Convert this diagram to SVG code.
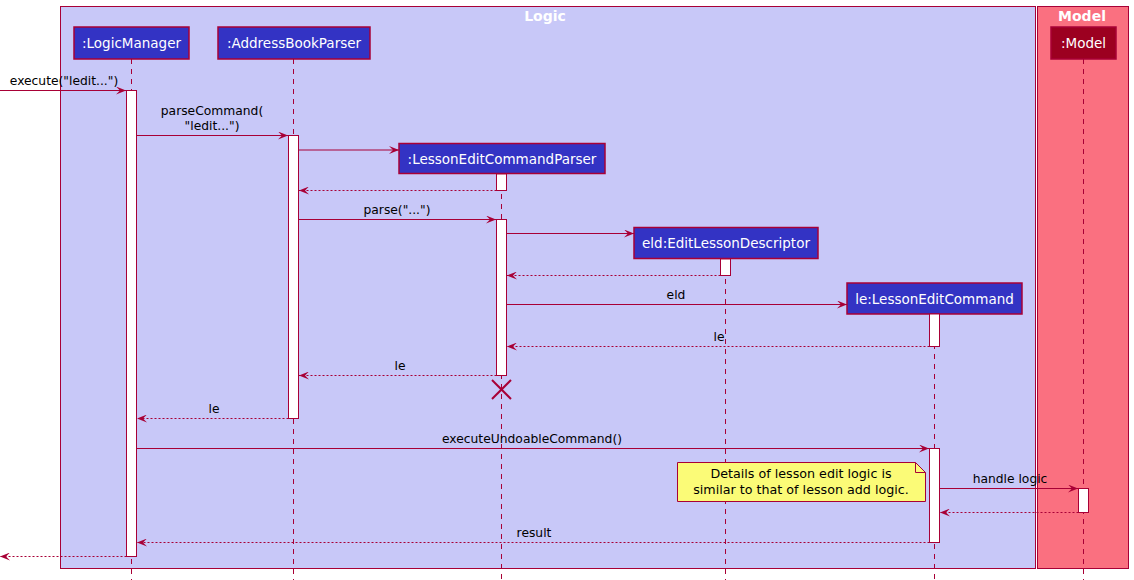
<svg xmlns="http://www.w3.org/2000/svg" width="1134" height="580" viewBox="0 0 1134 580">
<defs>
<style>
.box{stroke:#A80036;stroke-width:1}
.life{stroke:#A80036;stroke-width:1;stroke-dasharray:5,5;fill:none}
.part{fill:#3333C4;stroke:#A80036;stroke-width:1.5}
.ptxt{font-family:"DejaVu Sans",Verdana,sans-serif;font-size:13.5px;fill:#FFFFFF;text-anchor:middle}
.act{fill:#FFFFFF;stroke:#A80036;stroke-width:1}
.msg{stroke:#A80036;stroke-width:1;fill:none;marker-end:url(#ah)}
.ret{stroke:#A80036;stroke-width:1;stroke-dasharray:2,2;fill:none;marker-end:url(#ah)}
.lbl{font-family:"DejaVu Sans",Verdana,sans-serif;font-size:12.3px;fill:#000000;text-anchor:middle}
.ntxt{font-family:"DejaVu Sans",Verdana,sans-serif;font-size:12.7px;fill:#000000;text-anchor:middle}
.ttl{font-family:"DejaVu Sans",Verdana,sans-serif;font-size:14px;font-weight:bold;fill:#FFFFFF;text-anchor:middle}
</style>
<marker id="ah" viewBox="0 0 10 8" refX="10" refY="4" markerWidth="10" markerHeight="8" markerUnits="userSpaceOnUse" orient="auto">
<path d="M0,0 L10,4 L0,8 L4,4 Z" fill="#A80036"/>
</marker>
</defs>
<rect width="1134" height="580" fill="#FFFFFF"/>
<g id="box-logic">
<rect class="box" x="60.5" y="6.5" width="975" height="562" fill="#C8C8F8"/>
<text class="ttl" x="545" y="21">Logic</text>
</g>
<g id="box-model">
<rect class="box" x="1037.5" y="6.5" width="91" height="562" fill="#FA7080"/>
<text class="ttl" x="1082" y="21">Model</text>
</g>
<g id="lifelines">
<line class="life" x1="131.5" y1="59" x2="131.5" y2="580"/>
<line class="life" x1="293.5" y1="59" x2="293.5" y2="580"/>
<line class="life" x1="501.5" y1="174" x2="501.5" y2="580"/>
<line class="life" x1="725.5" y1="259" x2="725.5" y2="580"/>
<line class="life" x1="934.5" y1="314" x2="934.5" y2="580"/>
<line class="life" x1="1083.5" y1="59" x2="1083.5" y2="580"/>
</g>
<g id="LogicManager">
<rect class="part" x="74" y="27" width="115" height="32"/>
<text class="ptxt" x="131.5" y="48">:LogicManager</text>
<rect class="act" x="126.5" y="90.5" width="10" height="466"/>
</g>
<g id="AddressBookParser">
<rect class="part" x="218" y="27" width="152" height="32"/>
<text class="ptxt" x="294" y="48">:AddressBookParser</text>
<rect class="act" x="288.5" y="135.5" width="10" height="283"/>
</g>
<g id="LessonEditCommandParser">
<rect class="part" x="399" y="143.5" width="206" height="30"/>
<text class="ptxt" x="502" y="163.5">:LessonEditCommandParser</text>
<rect class="act" x="496.5" y="174" width="10" height="16.5"/>
<rect class="act" x="496.5" y="219.5" width="10" height="156"/>
<line x1="492" y1="380" x2="511" y2="399" stroke="#A80036" stroke-width="2"/>
<line x1="511" y1="380" x2="492" y2="399" stroke="#A80036" stroke-width="2"/>
</g>
<g id="EditLessonDescriptor">
<rect class="part" x="634" y="227.5" width="184" height="31"/>
<text class="ptxt" x="726" y="248">eld:EditLessonDescriptor</text>
<rect class="act" x="720.5" y="259" width="10" height="16.5"/>
</g>
<g id="LessonEditCommand">
<rect class="part" x="847" y="283" width="175" height="31"/>
<text class="ptxt" x="934.5" y="303.5">le:LessonEditCommand</text>
<rect class="act" x="929.5" y="314" width="10" height="32.5"/>
<rect class="act" x="929.5" y="448.5" width="10" height="94"/>
</g>
<g id="Model">
<rect class="part" x="1051" y="27" width="65" height="32" style="fill:#9C0020"/>
<text class="ptxt" x="1083.5" y="48">:Model</text>
<rect class="act" x="1078.5" y="488.5" width="10" height="24"/>
</g>
<g id="connectors">
<line class="msg" x1="0" y1="90.5" x2="126" y2="90.5"/>
<text class="lbl" x="64" y="85">execute("ledit...")</text>
<line class="msg" x1="136.5" y1="135.5" x2="288" y2="135.5"/>
<text class="lbl" x="212" y="115">parseCommand(</text>
<text class="lbl" x="212" y="130">"ledit...")</text>
<line class="msg" x1="298.5" y1="150" x2="399" y2="150"/>
<line class="ret" x1="496.5" y1="190.5" x2="299" y2="190.5"/>
<line class="msg" x1="298.5" y1="219.5" x2="496" y2="219.5"/>
<text class="lbl" x="397" y="214">parse("...")</text>
<line class="msg" x1="506.5" y1="233.5" x2="634" y2="233.5"/>
<line class="ret" x1="720.5" y1="275.5" x2="507" y2="275.5"/>
<line class="msg" x1="506.5" y1="304.5" x2="847" y2="304.5"/>
<text class="lbl" x="676" y="299">eld</text>
<line class="ret" x1="929.5" y1="346.5" x2="507" y2="346.5"/>
<text class="lbl" x="719" y="341">le</text>
<line class="ret" x1="496.5" y1="375.5" x2="299" y2="375.5"/>
<text class="lbl" x="400" y="370">le</text>
<line class="ret" x1="288.5" y1="418.5" x2="137" y2="418.5"/>
<text class="lbl" x="214" y="413">le</text>
<line class="msg" x1="136.5" y1="448.5" x2="929" y2="448.5"/>
<text class="lbl" x="532" y="442.5">executeUndoableCommand()</text>
<line class="msg" x1="939.5" y1="488.5" x2="1078" y2="488.5"/>
<text class="lbl" x="1010" y="483">handle logic</text>
<line class="ret" x1="1078.5" y1="512.5" x2="940" y2="512.5"/>
<line class="ret" x1="929.5" y1="542.5" x2="137" y2="542.5"/>
<text class="lbl" x="534" y="537">result</text>
<line class="ret" x1="126.5" y1="556.5" x2="0" y2="556.5"/>
</g>
<g id="note">
<path d="M677.5,462.5 L915.5,462.5 L925.5,472.5 L925.5,501.5 L677.5,501.5 Z" fill="#FBFB77" stroke="#A80036" stroke-width="1"/>
<path d="M915.5,462.5 L915.5,472.5 L925.5,472.5" fill="none" stroke="#A80036" stroke-width="1"/>
<text class="ntxt" x="801" y="478">Details of lesson edit logic is</text>
<text class="ntxt" x="801" y="494">similar to that of lesson add logic.</text>
</g>
</svg>
